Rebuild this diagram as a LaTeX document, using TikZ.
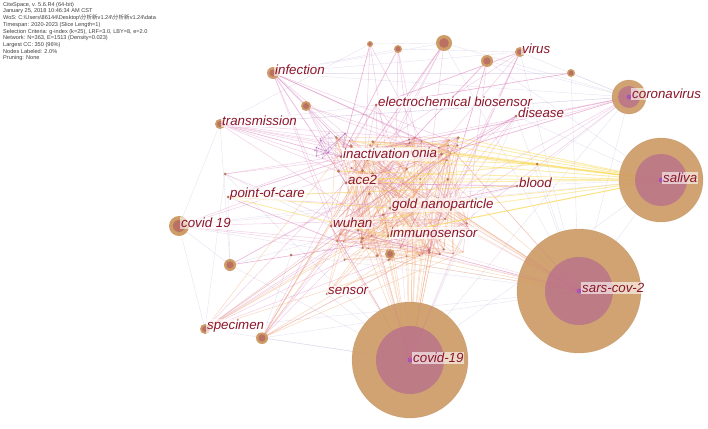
\documentclass[tikz,border=0pt]{standalone}
\usepackage{fontspec}
\setmainfont{Liberation Sans}
\newfontfamily\cjk{Noto Sans CJK SC}
\usetikzlibrary{positioning}

\definecolor{ringtan}{RGB}{206,156,102}
\definecolor{ringmauve}{RGB}{186,116,138}
\definecolor{ringbrown}{RGB}{186,112,98}
\definecolor{dotpurple}{RGB}{165,85,178}
\definecolor{dotbrown}{RGB}{170,100,70}
\definecolor{labelred}{RGB}{140,22,42}
\definecolor{edgepink}{RGB}{212,100,170}
\definecolor{edgeorange}{RGB}{240,158,92}
\definecolor{edgeyellow}{RGB}{250,215,70}
\definecolor{edgelav}{RGB}{180,160,212}

\tikzset{
	kw/.style={font=\fontsize{13.3}{15}\selectfont\itshape, text=labelred, fill=white, fill opacity=0.6, text opacity=1, inner sep=1pt},
	pinkedge/.style={draw=edgepink, opacity=0.3, line width=0.5pt},
	orangeedge/.style={draw=edgeorange, opacity=0.35, line width=0.5pt},
	yellowedge/.style={draw=edgeyellow, opacity=0.45, line width=0.9pt},
	lavedge/.style={draw=edgelav, opacity=0.3, line width=0.4pt},
}

\begin{document}
\begin{tikzpicture}[x=1pt, y=-1pt]
			\fill[white] (0,0) rectangle (708,428);
			\useasboundingbox (0,0) rectangle (708,428);
			
			\node[anchor=north west, align=left, inner sep=0pt, text=black!75, font=\fontsize{5.6}{6.7}\selectfont] (info) at (3,2) {%
				CiteSpace, v. 5.6.R4 (64-bit)\\
				January 25, 2018 10:46:34 AM CST\\
				WoS: C:\textbackslash Users\textbackslash 86144\textbackslash Desktop\textbackslash{\cjk 分析新}v1.24\textbackslash{\cjk 分析新}v1.24\textbackslash data\\
				Timespan: 2020-2023 (Slice Length=1)\\
				Selection Criteria: g-index (k=25), LRF=3.0, LBY=8, e=2.0\\
				Network: N=363, E=1513 (Density=0.023)\\
				Largest CC: 350 (96\%)\\
				Nodes Labeled: 2.0\%\\
				Pruning: None};
			
			% keyword nodes
			\coordinate (covidb) at (410,360);
			\coordinate (sars) at (579,291);
			\coordinate (saliva) at (661,180);
			\coordinate (corona) at (629,97);
			\coordinate (covids) at (179,226);
			\coordinate (infection) at (273,73);
			\coordinate (transmission) at (220,124);
			\coordinate (specimen) at (205,329);
			\coordinate (virus) at (520,52);
			\coordinate (disease) at (516,116);
			\coordinate (electro) at (376,105);
			\coordinate (blood) at (517,186);
			\coordinate (gold) at (390,208);
			\coordinate (immuno) at (388,236);
			\coordinate (wuhan) at (331,226);
			\coordinate (ace) at (346,183);
			\coordinate (poc) at (228,197);
			\coordinate (sensor) at (327,294);
			\coordinate (inact) at (341,157);
			\coordinate (pneu) at (370,157);
			\coordinate (n1) at (370,44);
			\coordinate (n2) at (398,49);
			\coordinate (n3) at (444,43);
			\coordinate (n4) at (487,61);
			\coordinate (n5) at (571,73);
			\coordinate (n6) at (306,106);
			\coordinate (n7) at (262,338);
			\coordinate (n8) at (230,265);
			\coordinate (n9) at (390,254);
			\coordinate (n10) at (291,255);
			\coordinate (n11) at (225,174);
			\coordinate (n12) at (537,164);
			
			\pgfmathsetseed{17}
			\foreach \i in {1,...,70} {
				\pgfmathsetmacro\cx{335+135*rnd}
				\pgfmathsetmacro\cy{135+125*rnd}
				\coordinate (k\i) at (\cx,\cy);
			}
			\foreach \i in {1,...,14} {
				\pgfmathsetmacro\cx{305+55*rnd}
				\pgfmathsetmacro\cy{128+32*rnd}
				\coordinate (m\i) at (\cx,\cy);
			}
			
			% long faint links
			\foreach \a/\b in {infection/corona, infection/virus, infection/n3, infection/n2, infection/n6, transmission/electro,
				transmission/corona, transmission/covids, transmission/n8, transmission/n1, covids/saliva, covids/blood, covids/sars,
				covids/specimen, covids/n8, poc/saliva, specimen/sars, specimen/covidb, n7/covidb, n7/sars, n8/covidb, n8/blood,
				corona/sars, corona/blood, corona/covidb, saliva/sars, saliva/covidb, n5/sars, n5/corona, virus/corona, n4/corona,
				n3/corona, sars/disease, saliva/disease, n12/sars, covidb/sensor, n1/n3, n2/virus, n11/wuhan, n10/sars, n5/infection,
				corona/transmission, saliva/n4, sars/n3, covidb/n11, specimen/n11, n7/n10, n8/poc, virus/sars, disease/covidb} {
				\draw[lavedge] (\a) -- (\b);
			}
			
			% central cluster
			\foreach \i in {1,...,190} {
				\pgfmathtruncatemacro\a{1+69*rnd}
				\pgfmathtruncatemacro\b{1+69*rnd}
				\draw[orangeedge] (k\a) -- (k\b);
			}
			\foreach \i in {1,...,50} {
				\pgfmathtruncatemacro\a{1+69*rnd}
				\pgfmathtruncatemacro\b{1+69*rnd}
				\draw[pinkedge, opacity=0.25] (k\a) -- (k\b);
			}
			\foreach \i in {1,...,30} {
				\pgfmathtruncatemacro\a{1+13*rnd}
				\pgfmathtruncatemacro\b{1+13*rnd}
				\draw[draw=dotpurple, opacity=0.3, line width=0.4pt] (m\a) -- (m\b);
			}
			
			\foreach \h/\n in {infection/9, transmission/8, n6/6, covids/5, poc/6, n8/4, specimen/7, n7/6, n1/3, n2/3, n3/4, n4/3,
				virus/5, corona/5, disease/4, electro/6, n11/3} {
				\foreach \j in {1,...,\n} {
					\pgfmathtruncatemacro\a{1+69*rnd}
					\draw[pinkedge] (\h) -- (k\a);
				}
			}
			\foreach \h/\n in {covidb/22, sars/10, sensor/6, specimen/5, n7/6, wuhan/6, immuno/6} {
				\foreach \j in {1,...,\n} {
					\pgfmathtruncatemacro\a{1+69*rnd}
					\draw[orangeedge, opacity=0.4] (\h) -- (k\a);
				}
			}
			\foreach \j in {1,...,12} {
				\pgfmathtruncatemacro\a{1+69*rnd}
				\draw[yellowedge] (saliva) -- (k\a);
			}
			\foreach \a/\b in {poc/gold, poc/immuno, n12/inact, saliva/wuhan, saliva/ace, blood/poc, n12/ace, saliva/gold} {
				\draw[yellowedge] (\a) -- (\b);
			}
			\foreach \a/\b in {blood/wuhan, blood/ace, virus/electro, n4/wuhan, n3/ace, n2/inact, n1/inact, corona/inact, corona/ace,
				disease/wuhan, sars/wuhan, covidb/wuhan, infection/ace, transmission/inact, n5/electro} {
				\draw[pinkedge, opacity=0.45, line width=0.7pt] (\a) -- (\b);
			}
			
			\foreach \i in {1,...,70} {
				\pgfmathsetmacro\s{0.4+1.3*rnd}
				\fill[dotbrown, opacity=0.7] (k\i) circle (\s pt);
			}
			\foreach \i in {1,...,14} {
				\fill[dotpurple, opacity=0.6] (m\i) circle (0.8pt);
			}
			
			% big hubs
			\foreach \p/\R/\r in {covidb/58/34, sars/62/34, saliva/42/26, corona/17/11} {
				\fill[ringtan, opacity=0.92] (\p) circle (\R pt);
				\draw[ringtan!85!black, opacity=0.4] (\p) circle (\R pt);
				\fill[ringmauve, opacity=0.85] (\p) circle (\r pt);
				\fill[dotpurple] (\p) circle (2.5pt);
			}
			\foreach \j in {1,...,6} {
				\pgfmathtruncatemacro\a{1+69*rnd}
				\draw[pinkedge, opacity=0.2] (covidb) -- (k\a);
				\draw[pinkedge, opacity=0.2] (sars) -- (k\a);
			}
			
			% small nodes
			\foreach \p/\R in {covids/10, infection/6, transmission/5, specimen/5, virus/5, n1/3, n2/4, n3/8, n4/6, n5/4, n6/5,
				n7/6, n8/6, n9/5} {
				\pgfmathsetmacro\r{0.6*\R}
				\fill[ringtan] (\p) circle (\R pt);
				\fill[ringbrown] (\p) circle (\r pt);
			}
			\foreach \p in {n10, n11, n12, disease, electro, blood, gold, immuno, wuhan, ace, poc, sensor, inact} {
				\fill[dotbrown, opacity=0.8] (\p) circle (1.5pt);
			}
			
			% labels
			\node[kw, right=1pt of infection, yshift=3pt] (infectionlbl) {infection};
			\node[kw, right=1pt of transmission, yshift=3pt] (transmissionlbl) {transmission};
			\node[kw, right=1pt of electro, yshift=3pt] (electrolbl) {electrochemical biosensor};
			\node[kw, right=1pt of disease, yshift=3pt] (diseaselbl) {disease};
			\node[kw, right=1pt of virus, yshift=3pt] (viruslbl) {virus};
			\node[kw, right=2pt of corona, yshift=3pt] (coronalbl) {coronavirus};
			\node[kw, right=0pt of pneu, yshift=3pt] (pneulbl) {pneumonia};
			\node[kw, right=1pt of inact, yshift=3pt, fill opacity=0.9] (inactlbl) {inactivation};
			\node[kw, right=1pt of ace, yshift=3pt] (acelbl) {ace2};
			\node[kw, right=1pt of poc, yshift=3pt] (poclbl) {point-of-care};
			\node[kw, right=1pt of blood, yshift=3pt] (bloodlbl) {blood};
			\node[kw, right=1pt of gold, yshift=3pt] (goldlbl) {gold nanoparticle};
			\node[kw, right=1pt of covids, yshift=3pt] (covidslbl) {covid 19};
			\node[kw, right=1pt of wuhan, yshift=3pt] (wuhanlbl) {wuhan};
			\node[kw, right=1pt of immuno, yshift=3pt] (immunolbl) {immunosensor};
			\node[kw, right=0pt of sensor, yshift=3pt] (sensorlbl) {sensor};
			\node[kw, right=1pt of specimen, yshift=3pt] (specimenlbl) {specimen};
			\node[kw, right=2pt of sars, yshift=3pt] (sarslbl) {sars-cov-2};
			\node[kw, right=2pt of covidb, yshift=2pt] (covidblbl) {covid-19};
			\node[kw, right=1pt of saliva, yshift=2pt] (salivalbl) {saliva};
\end{tikzpicture}
\end{document}
